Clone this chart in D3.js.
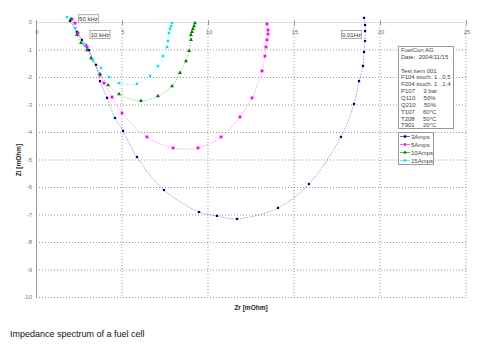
<!DOCTYPE html>
<html>
<head>
<meta charset="utf-8">
<script src="https://cdn.jsdelivr.net/npm/d3@7"></script>
<style>
  body { margin: 0; background: #fff; }
  svg { font-family: "Liberation Sans", Arial, sans-serif; }
</style>
</head>
<body>
<svg width="491" height="352"></svg>
<script>
// Zr / Zi readings in mOhm, one array per current
const zr3 = [1.98, 2.38, 2.67, 2.91, 3.08, 3.31, 3.49, 3.72, 4.13, 4.59, 5.06, 5.87, 7.44, 9.48, 10.52, 11.69, 14.07, 15.87, 17.73, 18.49, 18.78, 19.01, 19.07, 19.13, 19.13, 19.13, 19.07];
const zi3 = [0.04, -0.36, -0.65, -0.84, -1.02, -1.38, -1.56, -2.15, -2.76, -3.49, -3.96, -4.91, -6.11, -6.91, -7.05, -7.16, -6.76, -5.89, -4.18, -2.98, -2.15, -1.6, -1.09, -0.69, -0.33, -0.11, 0.15];

const zr5 = [2.09, 2.27, 2.44, 2.85, 2.97, 3.72, 3.95, 4.42, 5.0, 6.45, 7.97, 9.42, 10.76, 11.86, 12.56, 13.14, 13.31, 13.37, 13.43, 13.49, 13.49, 13.43];
const zi5 = [0.11, -0.04, -0.4, -0.84, -0.91, -1.93, -2.22, -2.73, -3.31, -4.18, -4.58, -4.58, -4.18, -3.45, -2.76, -1.78, -1.24, -0.91, -0.65, -0.44, -0.29, -0.07];

const zr10 = [2.03, 2.38, 2.62, 2.97, 3.2, 3.72, 4.19, 4.83, 6.1, 7.09, 7.91, 8.37, 8.72, 8.9, 9.01, 9.01, 9.07, 9.13, 9.19, 9.24];
const zi10 = [0.11, -0.47, -0.76, -1.02, -1.31, -1.89, -2.29, -2.62, -2.87, -2.69, -2.33, -1.85, -1.42, -1.05, -0.65, -0.47, -0.36, -0.25, -0.15, -0.04];

const zr15 = [1.8, 2.27, 2.85, 3.31, 3.78, 4.24, 4.83, 5.87, 6.63, 7.09, 7.38, 7.62, 7.67, 7.73, 7.79, 7.85, 7.91];
const zi15 = [0.18, -0.22, -0.84, -1.38, -1.67, -2.0, -2.22, -2.25, -1.96, -1.6, -1.24, -0.91, -0.69, -0.4, -0.25, -0.15, -0.04];

const seriesNames = ["3Amps", "5Amps", "10Amps", "15Amps"];
const seriesColors = ["#000080", "#ff00ff", "#008000", "#00e5ee"];

const xTicks = [0, 5, 10, 15, 20, 25];
const yTicks = [0, -1, -2, -3, -4, -5, -6, -7, -8, -9, -10];

const infoLines = ["FuelCon AG", "Date:  2004/11/15", "", "Test item 001", "F104 stoch. 1 ..0,5", "F204 stoch. 1 ..1,4",
  "P107     3 bar", "Q110     50%", "Q210     50%", "T107     60°C", "T208     50°C", "T901     20°C"];

const freqLabels = [
  {text: "50 kHz", zr: 3.05, zi: 0.12},
  {text: "10 kHz", zr: 3.72, zi: -0.45},
  {text: "0,01Hz", zr: 18.34, zi: -0.45}
];

const series = [
  {zr: zr3, zi: zi3}, {zr: zr5, zi: zi5}, {zr: zr10, zi: zi10}, {zr: zr15, zi: zi15}
].map((s, i) => ({
  name: seriesNames[i],
  color: seriesColors[i],
  pts: s.zr.map((v, j) => [v, s.zi[j]])
}));

const svg = d3.select("svg");

const x = d3.scaleLinear().domain([0, 25]).range([36, 466]);
const y = d3.scaleLinear().domain([0, -10]).range([22, 297]);

// grid
svg.append("g")
  .selectAll("line.vg")
  .data(xTicks.slice(1))
  .enter()
  .append("line")
  .attr("x1", d => x(d)).attr("x2", d => x(d))
  .attr("y1", y(0)).attr("y2", y(-10))
  .attr("stroke", "#999")
  .attr("stroke-width", 1)
  .attr("stroke-dasharray", "1,2");

svg.append("g")
  .selectAll("line.hg")
  .data(yTicks.slice(1))
  .enter()
  .append("line")
  .attr("x1", x(0)).attr("x2", x(25))
  .attr("y1", d => y(d) + 0.5).attr("y2", d => y(d) + 0.5)
  .attr("stroke", "#999")
  .attr("stroke-width", 1)
  .attr("stroke-dasharray", "1,2");

// axis lines
svg.append("line")
  .attr("x1", x(0)).attr("x2", x(25))
  .attr("y1", y(0) + 0.5).attr("y2", y(0) + 0.5)
  .attr("stroke", "#ddd");

svg.append("line")
  .attr("x1", x(0) + 0.5).attr("x2", x(0) + 0.5)
  .attr("y1", y(0)).attr("y2", y(-10))
  .attr("stroke", "#999");

// x ticks on the zero line
svg.append("g")
  .selectAll("line")
  .data(xTicks)
  .enter()
  .append("line")
  .attr("x1", d => x(d) + 0.5).attr("x2", d => x(d) + 0.5)
  .attr("y1", y(0) - 2).attr("y2", y(0) + 3)
  .attr("stroke", "#999");

svg.append("g")
  .selectAll("text")
  .data(xTicks)
  .enter()
  .append("text")
  .attr("x", d => x(d) + 1)
  .attr("y", y(0) + 12)
  .attr("text-anchor", "middle")
  .attr("font-size", 6)
  .attr("fill", "#777")
  .text(d => d);

svg.append("g")
  .selectAll("text")
  .data(yTicks)
  .enter()
  .append("text")
  .attr("x", x(0) - 4)
  .attr("y", d => y(d) + 2)
  .attr("text-anchor", "end")
  .attr("font-size", 6)
  .attr("fill", "#777")
  .text(d => d);

// axis titles
svg.append("text")
  .attr("x", 251).attr("y", 310)
  .attr("text-anchor", "middle")
  .attr("font-size", 6.5)
  .attr("font-weight", "bold")
  .attr("fill", "#222")
  .text("Zr [mOhm]");

svg.append("text")
  .attr("transform", "translate(21,160) rotate(-90)")
  .attr("text-anchor", "middle")
  .attr("font-size", 6.5)
  .attr("font-weight", "bold")
  .attr("fill", "#222")
  .text("Zi [mOhm]");

// curves
const line = d3.line()
  .x(d => x(d[0]))
  .y(d => y(d[1]))
  .curve(d3.curveCatmullRom);

svg.append("g")
  .selectAll("path")
  .data(series)
  .enter()
  .append("path")
  .attr("d", d => line(d.pts))
  .attr("fill", "none")
  .attr("stroke", d => d.color)
  .attr("stroke-opacity", 0.3)
  .attr("stroke-width", 1)
  .attr("stroke-dasharray", "2,1");

// markers
const symbolFor = i => i === 2 ? d3.symbolTriangle : d3.symbolSquare;
const sizeFor = i => [5, 8, 7, 6][i];

series.forEach((s, i) => {
  svg.append("g")
    .selectAll("path")
    .data(s.pts)
    .enter()
    .append("path")
    .attr("transform", d => `translate(${x(d[0])},${y(d[1])})`)
    .attr("d", d3.symbol().type(symbolFor(i)).size(sizeFor(i)))
    .attr("fill", s.color);
});

// frequency labels
const fl = svg.append("g")
  .selectAll("g")
  .data(freqLabels)
  .enter()
  .append("g")
  .attr("transform", d => `translate(${x(d.zr)},${y(d.zi)})`);

fl.append("rect")
  .attr("x", -10).attr("y", -4)
  .attr("width", 20).attr("height", 8)
  .attr("fill", "#fff")
  .attr("stroke", "#999")
  .attr("stroke-width", 0.8);

fl.append("text")
  .attr("y", 2.3)
  .attr("text-anchor", "middle")
  .attr("font-size", 6)
  .attr("fill", "#333")
  .text(d => d.text);

// info box
const info = svg.append("g").attr("transform", "translate(398,46)");
info.append("rect")
  .attr("x", 0.5).attr("y", 0.5)
  .attr("width", 55).attr("height", 82)
  .attr("fill", "#fff")
  .attr("stroke", "#999");

info.selectAll("text")
  .data(infoLines)
  .enter()
  .append("text")
  .attr("x", 3)
  .attr("y", (d, i) => 6 + i * 6.85)
  .attr("font-size", 6)
  .attr("fill", "#444")
  .attr("xml:space", "preserve")
  .style("white-space", "pre")
  .text(d => d);

// legend
const leg = svg.append("g").attr("transform", "translate(398,132)");
leg.append("rect")
  .attr("x", 0.5).attr("y", 0.5)
  .attr("width", 35).attr("height", 32)
  .attr("fill", "#fff")
  .attr("stroke", "#999");

const items = leg.selectAll("g")
  .data(series)
  .enter()
  .append("g")
  .attr("transform", (d, i) => `translate(0,${4.5 + i * 8})`);

items.append("line")
  .attr("x1", 2).attr("x2", 12)
  .attr("stroke", d => d.color)
  .attr("stroke-opacity", 0.6);

items.append("path")
  .attr("transform", "translate(7,0)")
  .attr("d", (d, i) => d3.symbol().type(symbolFor(i)).size(6)())
  .attr("fill", d => d.color);

items.append("text")
  .attr("x", 13).attr("y", 2.2)
  .attr("font-size", 6)
  .attr("fill", "#444")
  .text(d => d.name);

// caption
svg.append("text")
  .attr("x", 10).attr("y", 337)
  .attr("font-size", 9)
  .attr("fill", "#111")
  .text("Impedance spectrum of a fuel cell");
</script>
</body>
</html>
